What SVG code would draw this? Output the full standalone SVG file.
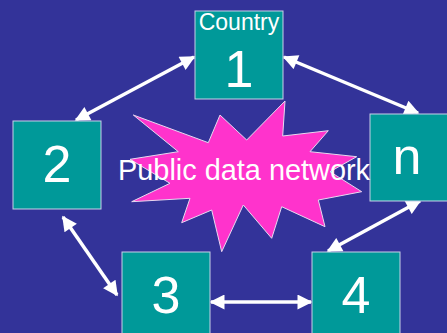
<svg xmlns="http://www.w3.org/2000/svg" width="447" height="333" viewBox="0 0 447 333">
<style>
.box{fill:#009999;stroke:#c8d0e8;stroke-width:1}
.num{fill:#ffffff;font-family:"Liberation Sans",Arial,sans-serif;font-size:52px;text-anchor:middle}
.lbl{fill:#ffffff;font-family:"Liberation Sans",Arial,sans-serif}
.conn{stroke:#ffffff;stroke-width:3.5;fill:none;marker-start:url(#ah);marker-end:url(#ah)}
</style>
<defs>
<marker id="ah" viewBox="0 0 10 10" refX="9" refY="5" markerWidth="17" markerHeight="15" markerUnits="userSpaceOnUse" orient="auto-start-reverse">
<path d="M0,0 L10,5 L0,10 z" fill="#ffffff"/>
</marker>
</defs>
<rect width="447" height="333" fill="#333399"/>
<g id="network">
<polygon points="133.3,115 208.3,142.7 220,115 246.7,140 285,101 282.7,136 328.3,130.7 310,151.7 356.7,156.7 330,171.7 361.7,191.7 318.3,200 325,226.7 281.7,206.7 271.7,238.3 243.3,205 221.7,251.7 211.7,210 181.7,222.7 190,198.3 131.7,201.7 170,183.3 130,159.3 178.3,151.7" fill="#ff33cc" stroke="#e8d8f0" stroke-width="1"/>
</g>
<g id="connectors">
<line class="conn" x1="76" y1="120" x2="194" y2="57"/>
<line class="conn" x1="284" y1="57" x2="418" y2="113"/>
<line class="conn" x1="420" y1="201" x2="328" y2="251"/>
<line class="conn" x1="63" y1="217" x2="117" y2="295"/>
<line class="conn" x1="211" y1="302" x2="311" y2="302"/>
</g>
<g id="node1">
<rect class="box" x="195" y="11" width="88" height="88"/>
<text class="lbl" x="239" y="30" font-size="23" text-anchor="middle">Country</text>
<text class="num" x="239" y="87">1</text>
</g>
<g id="node2">
<rect class="box" x="13" y="121" width="88" height="88"/>
<text class="num" x="57" y="182">2</text>
</g>
<g id="node3">
<rect class="box" x="122" y="252" width="88" height="88"/>
<text class="num" x="166" y="313">3</text>
</g>
<g id="node4">
<rect class="box" x="312" y="252" width="88" height="88"/>
<text class="num" x="356" y="313">4</text>
</g>
<g id="noden">
<rect class="box" x="370" y="114" width="88" height="87"/>
<text class="num" x="407" y="174" font-size="56">n</text>
</g>
<text class="lbl" x="118" y="180" font-size="29" textLength="252" lengthAdjust="spacingAndGlyphs">Public data network</text>
</svg>
